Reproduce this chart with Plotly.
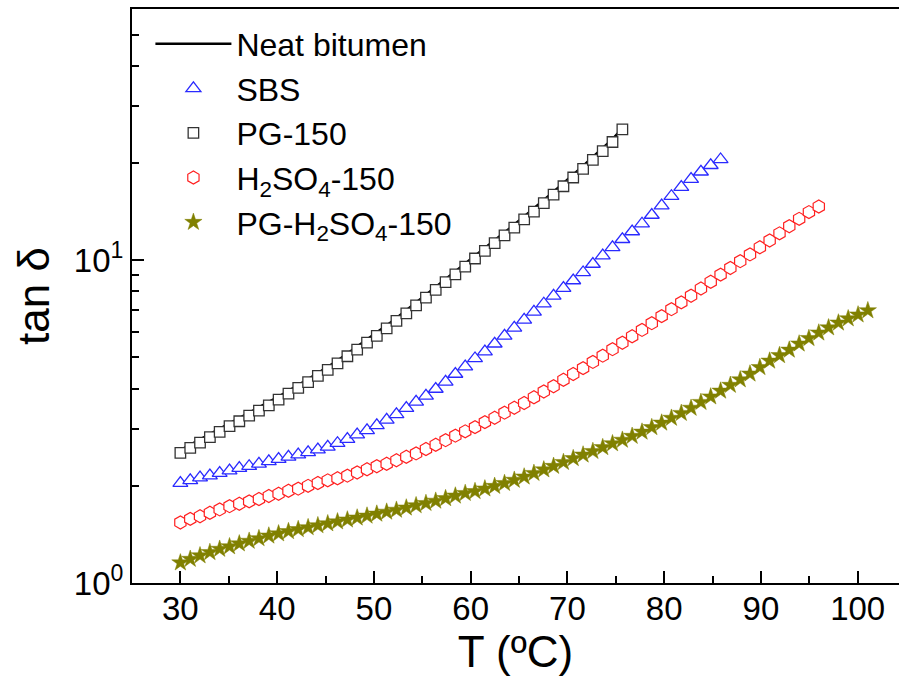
import plotly.graph_objects as go

# Temperature sweep (°C), shared by all samples
temp = [30.00, 31.02, 32.03, 33.05, 34.06, 35.08, 36.09, 37.11, 38.12, 39.14,
        40.15, 41.17, 42.18, 43.20, 44.21, 45.23, 46.24, 47.26, 48.27, 49.29,
        50.30, 51.32, 52.33, 53.35, 54.36, 55.38, 56.39, 57.41, 58.42, 59.44,
        60.45, 61.47, 62.48, 63.50, 64.51, 65.53, 66.54, 67.56, 68.57, 69.59,
        70.60, 71.62, 72.63, 73.65, 74.66, 75.68, 76.69, 77.71, 78.72, 79.74,
        80.75, 81.77, 82.78, 83.80, 84.81, 85.83, 86.84, 87.86, 88.87, 89.89,
        90.90, 91.92, 92.93, 93.95, 94.96, 95.98, 96.99, 98.01, 99.02, 100.04,
        101.05]

# tan delta for each binder
neat_bitumen = [2.58, 2.68, 2.78, 2.89, 3.01, 3.12, 3.24, 3.37, 3.49, 3.62,
                3.78, 3.94, 4.10, 4.28, 4.47, 4.67, 4.89, 5.14, 5.40, 5.66,
                5.96, 6.28, 6.62, 6.98, 7.40, 7.82, 8.26, 8.73, 9.23, 9.75,
                10.33, 10.92, 11.54, 12.19, 12.89, 13.65, 14.43, 15.35, 16.30, 17.30,
                18.41, 19.59, 20.89, 22.24, 23.72, 25.60]

sbs = [2.04, 2.08, 2.12, 2.15, 2.19, 2.23, 2.27, 2.30, 2.34, 2.38,
       2.42, 2.46, 2.50, 2.54, 2.59, 2.64, 2.71, 2.79, 2.88, 2.97,
       3.08, 3.20, 3.33, 3.48, 3.64, 3.80, 3.99, 4.20, 4.44, 4.68,
       4.96, 5.21, 5.51, 5.83, 6.17, 6.53, 6.92, 7.33, 7.75, 8.19,
       8.65, 9.16, 9.73, 10.33, 10.96, 11.61, 12.27, 12.97, 13.80, 14.76,
       15.78, 16.83, 17.82, 18.79, 19.68, 20.51]

pg_150 = [2.53, 2.62, 2.72, 2.83, 2.94, 3.06, 3.17, 3.30, 3.42, 3.55,
          3.70, 3.86, 4.02, 4.19, 4.38, 4.57, 4.79, 5.04, 5.28, 5.55,
          5.83, 6.15, 6.49, 6.84, 7.24, 7.66, 8.09, 8.55, 9.04, 9.55,
          10.12, 10.69, 11.30, 11.94, 12.62, 13.37, 14.13, 15.03, 15.96, 16.94,
          18.03, 19.19, 20.46, 21.78, 23.23, 25.41]

h2so4_150 = [1.54, 1.58, 1.61, 1.65, 1.69, 1.73, 1.76, 1.79, 1.82, 1.86,
             1.89, 1.93, 1.96, 2.00, 2.04, 2.08, 2.11, 2.15, 2.20, 2.25,
             2.30, 2.34, 2.40, 2.46, 2.52, 2.60, 2.68, 2.77, 2.86, 2.95,
             3.04, 3.15, 3.25, 3.37, 3.49, 3.61, 3.76, 3.92, 4.07, 4.26,
             4.44, 4.63, 4.84, 5.06, 5.30, 5.55, 5.81, 6.08, 6.38, 6.71,
             7.05, 7.40, 7.76, 8.17, 8.57, 9.02, 9.46, 9.93, 10.42, 10.96,
             11.51, 12.11, 12.74, 13.43, 14.09, 14.66]

pg_h2so4_150 = [1.156, 1.186, 1.216, 1.245, 1.274, 1.297, 1.324, 1.349, 1.374, 1.400,
                1.422, 1.445, 1.466, 1.486, 1.507, 1.528, 1.549, 1.570, 1.592, 1.614,
                1.637, 1.660, 1.683, 1.710, 1.738, 1.766, 1.795, 1.828, 1.862, 1.897,
                1.923, 1.959, 1.995, 2.037, 2.084, 2.133, 2.188, 2.244, 2.301, 2.366,
                2.432, 2.495, 2.559, 2.630, 2.704, 2.773, 2.851, 2.938, 3.034, 3.133,
                3.243, 3.357, 3.483, 3.631, 3.776, 3.936, 4.102, 4.266, 4.446, 4.656,
                4.875, 5.070, 5.272, 5.508, 5.728, 5.957, 6.180, 6.397, 6.592, 6.776,
                6.982]

x_ticks = [30, 40, 50, 60, 70, 80, 90, 100]
x_minor = [35, 45, 55, 65, 75, 85, 95]
y_ticks = [1, 10]
y_ticktext = ["10<sup>0</sup>", "10<sup>1</sup>"]
y_minor = [2, 3, 4, 5, 6, 7, 8, 9, 20, 30, 40, 50]

FONT = "Arial, Liberation Sans, sans-serif"

fig = go.Figure()

fig.add_trace(go.Scatter(
    x=temp[:len(neat_bitumen)], y=neat_bitumen, mode="lines", name="Neat bitumen",
    line=dict(color="black", width=2.5)))

fig.add_trace(go.Scatter(
    x=temp[:len(sbs)], y=sbs, mode="markers", name="SBS",
    marker=dict(symbol="triangle-up", size=13, color="white",
                line=dict(color="#2a2aff", width=1.3))))

fig.add_trace(go.Scatter(
    x=temp[:len(pg_150)], y=pg_150, mode="markers", name="PG-150",
    marker=dict(symbol="square", size=10.5, color="white",
                line=dict(color="#333333", width=1.3))))

fig.add_trace(go.Scatter(
    x=temp[:len(h2so4_150)], y=h2so4_150, mode="markers",
    name="H<sub>2</sub>SO<sub>4</sub>-150",
    marker=dict(symbol="hexagon", size=13, color="white",
                line=dict(color="#ff2020", width=1.2))))

fig.add_trace(go.Scatter(
    x=temp[:len(pg_h2so4_150)], y=pg_h2so4_150, mode="markers",
    name="PG-H<sub>2</sub>SO<sub>4</sub>-150",
    marker=dict(symbol="star", size=13, color="#808000",
                line=dict(color="#808000", width=0.5))))

fig.update_layout(
    width=899, height=688,
    margin=dict(l=132, r=0, t=9, b=105),
    paper_bgcolor="white", plot_bgcolor="white",
    font=dict(family=FONT, color="black"),
    showlegend=True,
    legend=dict(x=0.024, y=0.987, xanchor="left", yanchor="top",
                bgcolor="rgba(0,0,0,0)", font=dict(size=32, family=FONT),
                itemwidth=76, tracegroupgap=0),
    xaxis=dict(
        range=[25, 104.27], tickvals=x_ticks, ticks="inside", ticklen=12,
        tickwidth=2, tickcolor="black", showline=True, linewidth=2,
        linecolor="black", mirror=True, showgrid=False, zeroline=False,
        tickfont=dict(size=33, family=FONT), ticklabelstandoff=-5,
        minor=dict(tickvals=x_minor, ticks="inside", ticklen=7, tickwidth=2,
                   tickcolor="black", showgrid=False),
        title=dict(text="T (ºC)", font=dict(size=44, family=FONT), standoff=9)),
    yaxis=dict(
        type="log", range=[0, 1.778], tickvals=y_ticks, ticktext=y_ticktext,
        ticks="inside", ticklen=12, tickwidth=2, tickcolor="black",
        showline=True, linewidth=2, linecolor="black", showgrid=False,
        zeroline=False, tickfont=dict(size=33, family=FONT),
        minor=dict(tickvals=y_minor, ticks="inside", ticklen=7, tickwidth=2,
                   tickcolor="black", showgrid=False),
        title=dict(text="tan δ", font=dict(size=44, family=FONT), standoff=10)),
)

fig.write_html("out.html")
